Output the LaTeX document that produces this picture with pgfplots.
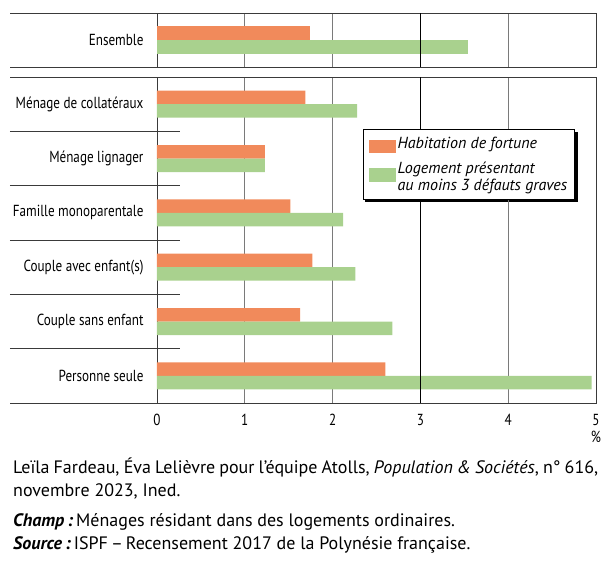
\documentclass[border=0pt]{standalone}
\usepackage{fontspec}
\setmainfont{PT Sans}
\newfontfamily\condfont{PT Sans}[FakeStretch=0.82]
\usepackage{pgfplots}
\pgfplotsset{compat=1.18}
\usetikzlibrary{calc,backgrounds}
\definecolor{orangebar}{HTML}{F18A5B}
\definecolor{greenbar}{HTML}{A9D18E}
\definecolor{gridgray}{HTML}{7A7A7A}
\definecolor{boxline}{HTML}{3A3A3A}

\pgfplotsset{
  panel/.style={
    width=439pt, scale only axis,
    xmin=0, xmax=5,
    xbar, bar width=13.5pt,
    axis line style={boxline, line width=0.9pt},
    xmajorgrids=true, xtick={1,2,4},
    major grid style={gridgray, line width=0.9pt},
    major tick length=0pt,
    ytick style={draw=none},
    xtick style={draw=none},
    clip=false,
    /pgf/number format/assume math mode=true,
    tick label style={font=\condfont\fontsize{16}{18}\selectfont},
    yticklabel style={xshift=-10pt},
  }
}

\begin{document}
\begin{tikzpicture}
\path[use as bounding box] (0,0) rectangle (614pt,-563pt);

% top panel: Ensemble
\begin{axis}[panel, name=top, at={(157pt,-67pt)}, anchor=south west,
  height=54pt, ymin=-0.5, ymax=0.5,
  ytick={0}, yticklabels={Ensemble},
  xticklabels={}]
\addplot[fill=orangebar, draw=none, bar shift=7pt] coordinates {(1.74,0)};
\addplot[fill=greenbar, draw=none, bar shift=-7pt] coordinates {(3.54,0)};
\draw[black, line width=0.9pt] (axis cs:3,-0.5) -- (axis cs:3,0.5);
\draw[boxline, line width=0.9pt] (rel axis cs:0,0) -- ++(-147pt,0pt);
\draw[boxline, line width=0.9pt] (rel axis cs:0,1) -- ++(-147pt,0pt);
\end{axis}

% bottom panel
\begin{axis}[panel, name=bot, at={(157pt,-403pt)}, anchor=south west,
  height=326pt, ymin=0.5, ymax=6.5,
  ytick={1,2,3,4,5,6},
  yticklabels={Personne seule, Couple sans enfant, Couple avec enfant(s),
    Famille monoparentale, Ménage lignager, Ménage de collatéraux},
  extra x ticks={0,3,5}, extra x tick style={grid=none},
  xticklabel style={yshift=-8pt},
  legend cell align=left,
  legend style={name=leg, at={(0.4686,0.840)}, anchor=north west,
    draw=black, line width=0.8pt, fill=white,
    font=\itshape\fontsize{16}{17}\selectfont,
    cells={align=left}, inner xsep=5.5pt, inner ysep=5.5pt, row sep=7pt,
    /tikz/every even column/.append style={column sep=3pt}}]
\addplot[fill=orangebar, draw=none, bar shift=6.75pt,
  legend image code/.code={\fill[orangebar] (0pt,-9.5pt) rectangle (27pt,4pt);}] coordinates
  {(2.60,1) (1.63,2) (1.77,3) (1.52,4) (1.23,5) (1.69,6)};
\addplot[fill=greenbar, draw=none, bar shift=-6.75pt,
  legend image code/.code={\fill[greenbar] (0pt,-4.5pt) rectangle (27pt,9pt);}] coordinates
  {(4.95,1) (2.68,2) (2.26,3) (2.12,4) (1.23,5) (2.28,6)};
\legend{Habitation de fortune, {Logement présentant\\au moins 3 défauts graves}}
\draw[black, line width=0.9pt] (axis cs:3,0.5) -- (axis cs:3,6.5);
\draw[boxline, line width=0.9pt] (rel axis cs:0,0) -- ++(-147pt,0pt);
\draw[boxline, line width=0.9pt] (rel axis cs:0,1) -- ++(-147pt,0pt);
\pgfplotsinvokeforeach{1.5,2.5,3.5,4.5,5.5}{
  \draw[boxline, line width=0.9pt] (axis cs:0,#1) ++(-147pt,0pt) -- ++(170pt,0pt);
}
\node[anchor=north, font=\condfont\fontsize{16}{18}\selectfont, inner sep=0pt,
  yshift=-28pt] at (rel axis cs:1,0) {\%};
\end{axis}

% legend shadow
\begin{scope}[on background layer]
\fill[black] ($(leg.south west)+(2.5pt,-2.5pt)$) rectangle ($(leg.north east)+(2.5pt,-2.5pt)$);
\end{scope}

% footer
\begin{scope}[every node/.style={anchor=base west, inner sep=0pt, font=\fontsize{18}{22}\selectfont}]
\node at (13pt,-473pt) {\makebox[585pt][s]{Leïla Fardeau, Éva Lelièvre pour l’équipe Atolls, \textit{Population \& Sociétés}, n° 616,}};
\node at (13pt,-496pt) {novembre 2023, Ined.};
\node at (13pt,-526pt) {\textbf{\textit{Champ\,:}}\,Ménages résidant dans des logements ordinaires.};
\node at (13pt,-549pt) {\textbf{\textit{Source\,:}}\,ISPF\,–\,Recensement 2017 de la Polynésie française.};
\end{scope}
\end{tikzpicture}
\end{document}
